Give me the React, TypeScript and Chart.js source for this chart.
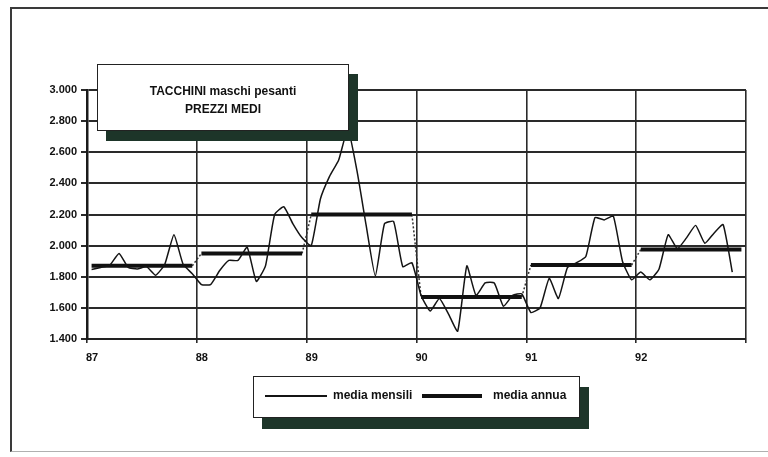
import React, { useEffect, useRef } from 'react';
import { Chart, registerables } from 'chart.js';

Chart.register(...registerables);

// ---- data ----
const years = ['87', '88', '89', '90', '91', '92'];
const mensili87 = [1847, 1860, 1875, 1950, 1860, 1850, 1865, 1810, 1880, 2070, 1880, 1820];
const mensili88 = [1750, 1750, 1840, 1905, 1905, 1990, 1770, 1870, 2200, 2250, 2140, 2050];
const mensili89 = [2000, 2300, 2445, 2550, 2750, 2480, 2130, 1805, 2140, 2155, 1865, 1890];
const mensili90 = [1680, 1580, 1660, 1560, 1450, 1870, 1680, 1760, 1760, 1610, 1680, 1690];
const mensili91 = [1570, 1600, 1790, 1660, 1860, 1890, 1930, 2180, 2165, 2190, 1900, 1780];
const mensili92 = [1830, 1780, 1850, 2070, 1980, 2050, 2130, 2015, 2080, 2135, 1830];
const mediaAnnua = [1870, 1950, 2200, 1670, 1875, 1975];
const yMin = 1400;
const yMax = 3000;
const yStep = 200;

const titleLines = ['TACCHINI maschi pesanti', 'PREZZI MEDI'];
const legendLabels = ['media mensili', 'media annua'];

const fmtIt = (v: number) => {
  const t = Math.floor(v / 1000);
  const r = String(Math.round(v % 1000)).padStart(3, '0');
  return t > 0 ? `${t}.${r}` : String(v);
};

const FONT = "'Liberation Sans', Arial, sans-serif";
const SHADOW = '#1d3529';

export default function App() {
  const ref = useRef<HTMLCanvasElement | null>(null);

  useEffect(() => {
    if (!ref.current) return;
    const monthly = [mensili87, mensili88, mensili89, mensili90, mensili91, mensili92];

    const mensiliData: { x: number; y: number | null }[] = [];
    monthly.forEach((arr, k) => {
      arr.forEach((v, i) => mensiliData.push({ x: k * 12 + i + 0.5, y: v }));
    });

    const annuaData: { x: number; y: number | null }[] = [];
    mediaAnnua.forEach((m, k) => {
      for (let i = 0; i < 12; i++) annuaData.push({ x: k * 12 + i + 0.5, y: m });
      annuaData.push({ x: k * 12 + 12, y: null });
    });

    const connData: { x: number; y: number | null }[] = [];
    for (let k = 1; k < mediaAnnua.length; k++) {
      connData.push({ x: k * 12 - 0.5, y: mediaAnnua[k - 1] });
      connData.push({ x: k * 12 + 0.5, y: mediaAnnua[k] });
      connData.push({ x: k * 12 + 1, y: null });
    }

    const chart = new Chart(ref.current, {
      type: 'line',
      data: {
        datasets: [
          {
            label: legendLabels[0],
            data: mensiliData,
            borderColor: '#141414',
            borderWidth: 1.5,
            pointRadius: 0,
            tension: 0.15,
            spanGaps: false,
          },
          {
            label: legendLabels[1],
            data: annuaData,
            borderColor: '#111',
            borderWidth: 4,
            pointRadius: 0,
            spanGaps: false,
            borderCapStyle: 'butt',
          },
          {
            label: 'conn',
            data: connData,
            borderColor: '#333',
            borderWidth: 1.5,
            borderDash: [2, 2],
            pointRadius: 0,
            spanGaps: false,
          },
        ],
      },
      options: {
        animation: false,
        responsive: false,
        devicePixelRatio: 1,
        layout: { padding: { left: 0, top: 90, right: 22, bottom: 88 } },
        plugins: {
          legend: { display: false },
          tooltip: { enabled: false },
          title: { display: false },
        },
        scales: {
          x: {
            type: 'linear',
            min: 0,
            max: 72,
            afterFit: (s: any) => {
              s.height = 30;
            },
            afterBuildTicks: (s: any) => {
              s.ticks = [0, 12, 24, 36, 48, 60, 72].map((v) => ({ value: v }));
            },
            ticks: {
              autoSkip: false,
              maxRotation: 0,
              labelOffset: 5,
              padding: 8,
              color: '#111',
              font: { family: FONT, size: 11, weight: 'bold' },
              callback: (v: any) => {
                const k = Number(v) / 12;
                return Number.isInteger(k) && k < years.length ? years[k] : '';
              },
            },
            grid: { color: '#2a2a2a', lineWidth: 1.6, tickLength: 4, drawTicks: true },
            border: { display: true, color: '#222', width: 2 },
          },
          y: {
            min: yMin,
            max: yMax,
            afterFit: (s: any) => {
              s.width = 87;
            },
            ticks: {
              stepSize: yStep,
              padding: 4,
              color: '#111',
              font: { family: FONT, size: 11, weight: 'bold' },
              callback: (v: any) => fmtIt(Number(v)),
            },
            grid: { color: '#2a2a2a', lineWidth: 2, tickLength: 6, drawTicks: true },
            border: { display: true, color: '#1a1a1a', width: 2.5 },
          },
        },
      },
    } as any);

    return () => chart.destroy();
  }, []);

  return (
    <div
      style={{
        position: 'fixed',
        left: 0,
        top: 0,
        width: 768,
        height: 457,
        background: '#fff',
        overflow: 'hidden',
        fontFamily: FONT,
      }}
    >
      <div
        style={{
          position: 'absolute',
          left: 10,
          top: 7,
          width: 770,
          height: 445,
          borderTop: '2px solid #3a3a3a',
          borderLeft: '2px solid #3a3a3a',
          borderBottom: '1px solid #b0b0b0',
          boxSizing: 'border-box',
        }}
      />
      <canvas ref={ref} width={768} height={457} style={{ position: 'absolute', left: 0, top: 0, width: 768, height: 457 }} />
      {/* title box */}
      <div
        style={{
          position: 'absolute',
          left: 97,
          top: 64,
          width: 252,
          height: 67,
          boxSizing: 'border-box',
          background: '#fff',
          border: '1.5px solid #222',
          boxShadow: `9px 10px 0 ${SHADOW}`,
          textAlign: 'center',
          fontWeight: 'bold',
          fontSize: 12,
          lineHeight: '18px',
          paddingTop: 17,
          color: '#111',
        }}
      >
        <div>{titleLines[0]}</div>
        <div>{titleLines[1]}</div>
      </div>
      {/* legend box */}
      <div
        style={{
          position: 'absolute',
          left: 253,
          top: 376,
          width: 327,
          height: 42,
          boxSizing: 'border-box',
          background: '#fff',
          border: '1.5px solid #222',
          boxShadow: `9px 11px 0 ${SHADOW}`,
          color: '#111',
          fontWeight: 'bold',
          fontSize: 12,
        }}
      >
        <div style={{ position: 'absolute', left: 11, top: 18, width: 62, height: 1.5, background: '#141414' }} />
        <div style={{ position: 'absolute', left: 79, top: 11, lineHeight: '14px', whiteSpace: 'nowrap' }}>{legendLabels[0]}</div>
        <div style={{ position: 'absolute', left: 168, top: 17, width: 60, height: 4, background: '#111' }} />
        <div style={{ position: 'absolute', left: 239, top: 11, lineHeight: '14px', whiteSpace: 'nowrap' }}>{legendLabels[1]}</div>
      </div>
    </div>
  );
}
